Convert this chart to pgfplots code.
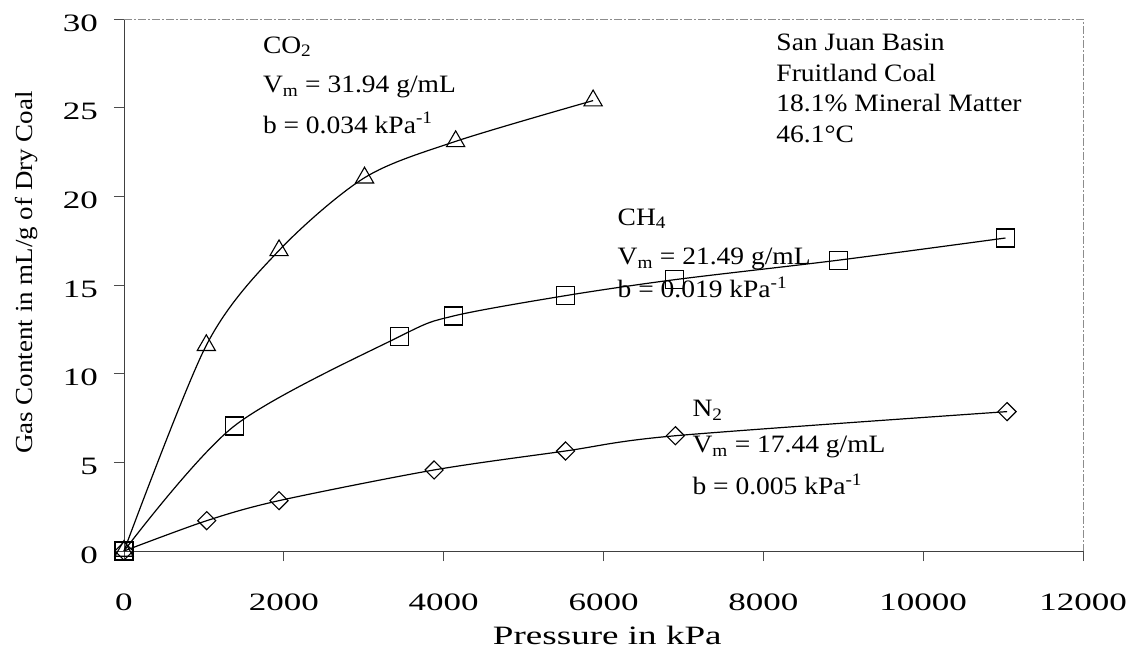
\documentclass[border=0pt]{standalone}
\usepackage{fontspec}
\setmainfont{Liberation Serif}[FakeStretch=1.1]
\newfontfamily\tickfont{Liberation Serif}[FakeStretch=1.4]
\usepackage{pgfplots}
\pgfplotsset{compat=1.18}

\begin{document}
\begin{tikzpicture}[ann/.style={anchor=base west, inner sep=0pt, font=\fontsize{25}{30}\selectfont}]
\path[use as bounding box] (-124pt,-102pt) rectangle (1015pt,551pt);
\begin{axis}[
 at={(0pt,0pt)}, anchor=south west,
 scale only axis, width=959pt, height=532pt,
 xmin=0, xmax=12000, ymin=0, ymax=30,
 axis lines=left, axis line style={-, black!75, line width=0.8pt},
 xtick={0,2000,...,12000}, ytick={0,5,...,30},
 scaled x ticks=false, scaled y ticks=false,
 tick align=outside, major tick length=10pt, tick style={black!70, line width=0.8pt},
 /pgf/number format/assume math mode=true,
 /pgf/number format/1000 sep={},
 tick label style={font=\tickfont\fontsize{25}{30}\selectfont},
 yticklabel style={anchor=east, inner sep=0pt, xshift=-16pt, yshift=-4pt},
 xticklabel style={anchor=base, inner sep=0pt, yshift=-49pt},
 xlabel={Pressure in kPa},
 ylabel={Gas Content in mL/g of Dry Coal},
 every axis x label/.style={at={(axis description cs:0.504,-0.175)}, anchor=base, inner sep=0pt, font=\tickfont\fontsize{26.5}{30}\selectfont},
 every axis y label/.style={at={(axis description cs:-0.0949,0.5235)}, rotate=90, anchor=base, inner sep=0pt, font=\fontsize{24.5}{30}\selectfont},
 clip=false,
]
\draw[black!45, dash pattern=on 8pt off 2pt on 2pt off 2pt, line width=0.8pt] (rel axis cs:0,1) -- (rel axis cs:1,1) -- (rel axis cs:1,0);

\addplot[black, line width=1.2pt, smooth, mark=triangle, mark size=10.5pt, mark options={solid, fill=none, line width=1.1pt}]
 coordinates {(0,0) (1030,11.6) (1940,16.95) (3010,21.05) (4150,23.1) (5870,25.4)};
\addplot[black, line width=1.2pt, smooth, mark=square, mark size=9pt, mark options={solid, fill=none, line width=1.1pt}]
 coordinates {(0,0) (1380,7.05) (3450,12.1) (4120,13.25) (5525,14.4) (6890,15.3) (8940,16.4) (11030,17.65)};
\addplot[black, line width=1.2pt, smooth, mark=square, mark size=6.4pt, mark options={solid, fill=none, line width=1.1pt, rotate=45}]
 coordinates {(0,0) (1035,1.71) (1940,2.84) (3880,4.57) (5525,5.64) (6900,6.5) (11050,7.86)};

\node[ann] at (axis cs:8162,28.25) {San Juan Basin};
\node[ann] at (axis cs:8162,26.50) {Fruitland Coal};
\node[ann] at (axis cs:8162,24.76) {18.1\% Mineral Matter};
\node[ann] at (axis cs:8162,23.01) {46.1°C};

\node[ann] at (axis cs:1737,28.08) {CO\textsubscript{2}};
\node[ann] at (axis cs:1737,25.83) {V\textsubscript{m} = 31.94 g/mL};
\node[ann] at (axis cs:1737,23.57) {b = 0.034 kPa\textsuperscript{-1}};

\node[ann] at (axis cs:6175,18.38) {CH\textsubscript{4}};
\node[ann] at (axis cs:6175,16.13) {V\textsubscript{m} = 21.49 g/mL};
\node[ann] at (axis cs:6175,14.32) {b = 0.019 kPa\textsuperscript{-1}};

\node[ann] at (axis cs:7112,7.56) {N\textsubscript{2}};
\node[ann] at (axis cs:7112,5.53) {V\textsubscript{m} = 17.44 g/mL};
\node[ann] at (axis cs:7112,3.21) {b = 0.005 kPa\textsuperscript{-1}};
\end{axis}
\end{tikzpicture}
\end{document}
